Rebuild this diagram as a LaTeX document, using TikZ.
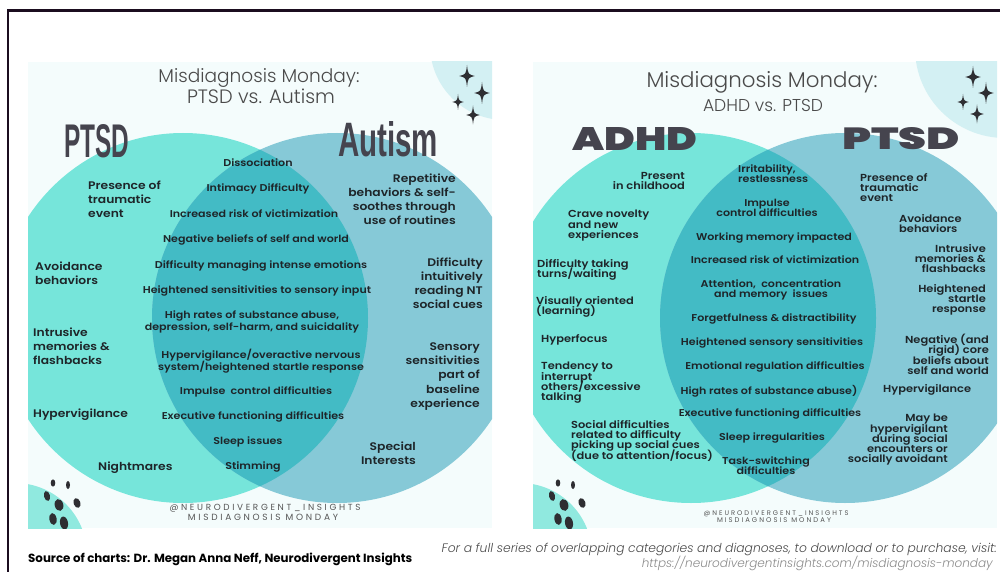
\documentclass[tikz,border=0pt]{standalone}
\usepackage{fontspec}
\usepackage{graphicx}
\usepackage{xcolor}
\setmainfont{Poppins}
\IfFontExistsTF{Poppins SemiBold}
  {\newfontfamily\labfamily{Poppins SemiBold}[FakeStretch=1.12]}
  {\newfontfamily\labfamily{Poppins}[FakeStretch=1.12,UprightFeatures={FakeBold=1}]}
\IfFontExistsTF{Poppins Light}
  {\newfontfamily\thinfamily{Poppins Light}}
  {\newfontfamily\thinfamily{Poppins}}
\IfFontExistsTF{Poppins Black}
  {\newfontfamily\blackfamily{Poppins Black}}
  {\newcommand\blackfamily{\bfseries}}
\newfontfamily\spacedfamily{Poppins}[LetterSpace=30]
\newfontfamily\headfamily{Liberation Sans}
\definecolor{ink}{HTML}{1E2529}
\definecolor{headink}{HTML}{45444E}
\definecolor{titleink}{HTML}{4A4A4A}
\definecolor{paper}{HTML}{F4FCFC}
\definecolor{aqua}{HTML}{76E5DA}
\definecolor{sky}{HTML}{86C9D7}
\definecolor{deep}{HTML}{43BBC5}
\definecolor{mist}{HTML}{D3F0F3}
\definecolor{mint}{HTML}{90E9DF}
\definecolor{soot}{HTML}{2E2E32}
\definecolor{frameink}{HTML}{1B0D1F}
\definecolor{tagink}{HTML}{555555}
\definecolor{linkink}{HTML}{8C8C8C}
% tight leading: never let TeX push lines apart
\newcommand\labsize[2]{\labfamily\fontsize{#1}{#2}\selectfont\lineskiplimit=-20pt\lineskip=0pt}
\tikzset{
  side/.style={inner sep=0pt,text=ink,align=left,font=\labsize{11}{14.2}},
  rside/.style={side,font=\labsize{10.2}{10.3}},
  mid/.style={inner sep=0pt,text=ink,align=center,anchor=north,font=\labsize{9.9}{12}},
  rmid/.style={mid,font=\labsize{9.9}{10}},
  title/.style={inner sep=0pt,anchor=base,text=titleink,font=\thinfamily},
  bighead/.style={inner sep=0pt,text=headink,font=\headfamily\bfseries},
  widehead/.style={inner sep=0pt,text=headink,font=\blackfamily},
  tag/.style={inner sep=0pt,anchor=base,text=tagink,font=\spacedfamily},
  sparkle/.pic={
    \fill[soot] (0,-1) .. controls (0.1,-0.15) .. (0.72,0) .. controls (0.1,0.15) .. (0,1)
      .. controls (-0.1,0.15) .. (-0.72,0) .. controls (-0.1,-0.15) .. cycle;
  },
  pawdots/.pic={
    \fill[soot] (25,-45) ellipse [x radius=2.3,y radius=3.6];
    \fill[soot] (40,-43) ellipse [x radius=2,y radius=4];
    \fill[soot,rotate around={15:(19,-32)}] (19,-32) ellipse [x radius=3,y radius=5];
    \fill[soot,rotate around={15:(31,-23)}] (31,-23) ellipse [x radius=4.3,y radius=6];
    \fill[soot,rotate around={20:(49,-25)}] (49,-25) ellipse [x radius=3.4,y radius=5];
    \fill[soot,rotate around={10:(25,-9)}] (25,-9) ellipse [x radius=3.6,y radius=6];
    \fill[soot,rotate around={10:(36,-5)}] (36,-5) ellipse [x radius=4,y radius=6.5];
  },
}

\begin{document}
\begin{tikzpicture}[x=1pt,y=-1pt]
  \useasboundingbox (0,0) rectangle (1000,572);
  \draw[frameink,line width=2.4pt] (8,572) -- (8,10.5) -- (1000,10.5);

  % ---- PTSD vs. Autism ----
  \fill[paper] (28,62) rectangle (492,528);
  \begin{scope}
    \clip (28,62) rectangle (492,528);
    \fill[mist] (505,45) circle (75);
    \fill[mint] (15,555) circle (72);
    \pic at (28,528) {pawdots};
    \fill[aqua] (183,318) circle (185);
    \fill[sky] (337,318) circle (185);
    \clip (183,318) circle (185);
    \fill[deep] (337,318) circle (185);
  \end{scope}
  \pic[scale=11] at (467,76) {sparkle};
  \pic[scale=11] at (482,93) {sparkle};
  \pic[scale=8] at (458,102) {sparkle};
  \pic[scale=9.5] at (473,115) {sparkle};

  \node[title] (lTitle) at (259,83) {\resizebox{201pt}{!}{Misdiagnosis Monday:}};
  \node[title] (lSub) at (261,104) {\resizebox{148pt}{!}{PTSD vs. Autism}};
  \node[bighead] (lPtsd) at (97,141.5) {\resizebox{65pt}{33pt}{PTSD}};
  \node[bighead] (lAutism) at (388,139.5) {\resizebox{100pt}{35pt}{Autism}};

  \node[side,anchor=north west] (lEvent) at (88,180.5) {Presence of\\traumatic\\event};
  \node[side,anchor=north west] (lAvoid) at (35,261.5) {Avoidance\\behaviors};
  \node[side,anchor=north west] (lIntrusive) at (33,327.5) {Intrusive\\memories \&\\flashbacks};
  \node[side,anchor=north west] (lHyper) at (33,408.5) {Hypervigilance};
  \node[side,anchor=north west] (lNight) at (98,461.5) {Nightmares};
  \node[side,align=right,anchor=north east] (lRoutine) at (456,173.5) {Repetitive\\behaviors \& self-\\soothes through\\use of routines};
  \node[side,align=right,anchor=north east] (lCues) at (483,257.5) {Difficulty\\intuitively\\reading NT\\social cues};
  \node[side,align=right,anchor=north east] (lSensory) at (480,342.5) {Sensory\\sensitivities\\part of\\baseline\\experience};
  \node[side,align=right,anchor=north east] (lSpecial) at (416,441.5) {Special\\Interests};

  \node[mid] (lDissoc) at (258,159) {Dissociation};
  \node[mid] (lIntimacy) at (258,184) {Intimacy Difficulty};
  \node[mid] (lVictim) at (254,210) {Increased risk of victimization};
  \node[mid] (lBeliefs) at (256,235) {Negative beliefs of self and world};
  \node[mid] (lEmotion) at (261,261) {Difficulty managing intense emotions};
  \node[mid] (lInput) at (257,286) {Heightened sensitivities to sensory input};
  \node[mid] (lAbuse) at (252,311) {High rates of substance abuse,\\depression, self-harm, and suicidality};
  \node[mid] (lStartle) at (261,349) {Hypervigilance/overactive nervous\\system/heightened startle response};
  \node[mid] (lImpulse) at (256,387) {Impulse~ control difficulties};
  \node[mid] (lExec) at (253,412) {Executive functioning difficulties};
  \node[mid] (lSleep) at (248,437) {Sleep issues};
  \node[mid] (lStim) at (253,462) {Stimming};

  \node[tag] (lHandle) at (265,510) {\resizebox{191pt}{!}{@NEURODIVERGENT\_INSIGHTS}};
  \node[tag] (lSeries) at (263,520) {\resizebox{150pt}{!}{MISDIAGNOSIS MONDAY}};

  % ---- ADHD vs. PTSD ----
  \fill[paper] (533,62) rectangle (997,528);
  \begin{scope}
    \clip (533,62) rectangle (997,528);
    \fill[mist] (1005,48) circle (90);
    \fill[mint] (520,555) circle (72);
    \pic at (533,528) {pawdots};
    \fill[aqua] (691,318) circle (185);
    \fill[sky] (845,318) circle (185);
    \clip (691,318) circle (185);
    \fill[deep] (845,318) circle (185);
  \end{scope}
  \pic[scale=11] at (973,77) {sparkle};
  \pic[scale=11] at (986,93) {sparkle};
  \pic[scale=8] at (963,102) {sparkle};
  \pic[scale=9.5] at (977,114) {sparkle};

  \node[title] (rTitle) at (762,88) {\resizebox{231pt}{!}{Misdiagnosis Monday:}};
  \node[title] (rSub) at (763,112) {\resizebox{120pt}{!}{ADHD vs. PTSD}};
  \node[widehead] (rAdhd) at (635,138.5) {\resizebox{125pt}{23pt}{ADHD}};
  \node[widehead] (rPtsd) at (901,139) {\resizebox{118pt}{22pt}{PTSD}};

  \node[rside,align=right,anchor=north east] (rChild) at (685,172) {Present\\in childhood};
  \node[rside,anchor=north west] (rNovelty) at (568,210) {Crave novelty\\and new\\experiences};
  \node[rside,anchor=north west] (rTurns) at (537,259) {Difficulty taking\\turns/waiting};
  \node[rside,anchor=north west] (rVisual) at (536,296) {Visually oriented\\(learning)};
  \node[rside,anchor=north west] (rFocus) at (541,334) {Hyperfocus};
  \node[rside,anchor=north west] (rInterrupt) at (541,362) {Tendency to\\interrupt\\others/excessive\\talking};
  \node[rside,anchor=north west] (rSocialCues) at (571,420) {Social difficulties\\related to difficulty\\picking up social cues\\(due to attention/focus)};
  \node[rside,anchor=north west] (rEvent) at (860,173) {Presence of\\traumatic\\event};
  \node[rside,anchor=north west] (rAvoid) at (899,214) {Avoidance\\behaviors};
  \node[rside,align=right,anchor=north east] (rIntrusive) at (986,244) {Intrusive\\memories \&\\flashbacks};
  \node[rside,align=right,anchor=north east] (rStartle) at (986,284) {Heightened\\startle\\response};
  \node[rside,align=right,anchor=north east] (rBeliefs) at (989,334) {Negative (and\\rigid) core\\beliefs about\\self and world};
  \node[rside,anchor=north west] (rHyper) at (883,384) {Hypervigilance};
  \node[rside,align=right,anchor=north east] (rAvoidant) at (948,414) {May be\\hypervigilant\\during social\\encounters or\\socially avoidant};

  \node[rmid,align=left,anchor=north west] (rIrritable) at (738,165) {Irritability,\\restlessness};
  \node[rmid] (rImpulse) at (767,199) {Impulse\\control difficulties};
  \node[rmid] (rWorking) at (774,233) {Working memory impacted};
  \node[rmid] (rVictim) at (775,256) {Increased risk of victimization};
  \node[rmid] (rAttention) at (771,280) {Attention,~ concentration\\and memory~ issues};
  \node[rmid] (rForget) at (774,314) {Forgetfulness \& distractibility};
  \node[rmid] (rSensory) at (772,338) {Heightened sensory sensitivities};
  \node[rmid] (rEmotion) at (775,362) {Emotional regulation difficulties};
  \node[rmid] (rAbuse) at (769,385) {High rates of substance abuse)};
  \node[rmid] (rExec) at (770,409) {Executive functioning difficulties};
  \node[rmid] (rSleep) at (772,433) {Sleep irregularities};
  \node[rmid] (rTask) at (766,457) {Task-switching\\difficulties};

  \node[tag] (rHandle) at (776,515) {\resizebox{145pt}{!}{@NEURODIVERGENT\_INSIGHTS}};
  \node[tag] (rSeries) at (774,522) {\resizebox{114pt}{!}{MISDIAGNOSIS MONDAY}};

  % ---- credits ----
  \node[inner sep=0pt,anchor=base west,text=black,font=\bfseries] (source) at (28,562)
    {\resizebox{384pt}{!}{Source of charts: Dr. Megan Anna Neff, Neurodivergent Insights}};
  \node[inner sep=0pt,anchor=base east,text=titleink,font=\thinfamily\itshape] (visit) at (997,552)
    {\resizebox{555pt}{!}{For a full series of overlapping categories and diagnoses, to download or to purchase, visit:}};
  \node[inner sep=0pt,anchor=base east,text=linkink,font=\thinfamily\itshape] (link) at (993,567)
    {\resizebox{351pt}{!}{\underline{https://neurodivergentinsights.com/misdiagnosis-monday}}};
\end{tikzpicture}
\end{document}
